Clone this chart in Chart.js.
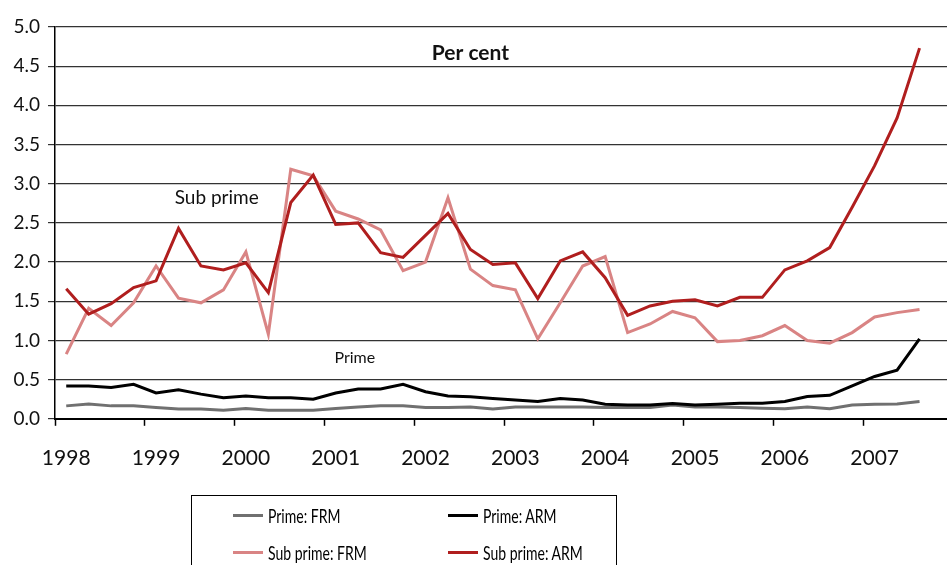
<!DOCTYPE html>
<html>
<head>
<meta charset="utf-8">
<script src="https://cdn.jsdelivr.net/npm/chart.js@4/dist/chart.umd.min.js"></script>
<style>
  body { margin: 0; width: 947px; height: 565px; overflow: hidden; background: #fff; font-family: Lato, sans-serif; }
  #wrap { position: absolute; left: 0; top: 0; width: 962px; height: 499px; }
  #legend { position: absolute; left: 191px; top: 495px; width: 426px; height: 90px; border: 1px solid #000; box-sizing: border-box; }
  .item { position: absolute; height: 20px; display: flex; align-items: center; }
  .swatch { width: 30px; height: 3px; margin-right: 5px; }
  .label { font-size: 20px; color: #000; transform: scaleX(0.7); transform-origin: left center; white-space: nowrap; }
</style>
</head>
<body>
<div id="wrap"><canvas id="chart" width="962" height="499"></canvas></div>
<div id="legend"></div>
<script>
// Quarterly data, 1998 Q1 - 2007 Q3 (per cent)
const years = ['1998', '1999', '2000', '2001', '2002', '2003', '2004', '2005', '2006', '2007'];
const seriesNames = ['Prime: FRM', 'Prime: ARM', 'Sub prime: FRM', 'Sub prime: ARM'];

const primeFRM = [0.165, 0.19, 0.165, 0.165, 0.145, 0.125, 0.125, 0.11, 0.13, 0.11,
  0.11, 0.11, 0.13, 0.15, 0.165, 0.165, 0.145, 0.145, 0.15, 0.125,
  0.15, 0.15, 0.15, 0.15, 0.145, 0.145, 0.145, 0.175, 0.15, 0.15,
  0.145, 0.135, 0.128, 0.15, 0.128, 0.175, 0.187, 0.19, 0.22];
const primeARM = [0.42, 0.42, 0.40, 0.44, 0.33, 0.37, 0.315, 0.27, 0.29, 0.27,
  0.27, 0.25, 0.33, 0.38, 0.38, 0.44, 0.345, 0.29, 0.28, 0.26,
  0.24, 0.22, 0.26, 0.24, 0.187, 0.175, 0.175, 0.195, 0.175, 0.187,
  0.20, 0.20, 0.22, 0.285, 0.30, 0.42, 0.54, 0.62, 1.02];
const subFRM = [0.825, 1.41, 1.19, 1.48, 1.95, 1.54, 1.48, 1.645, 2.13, 1.08,
  3.185, 3.10, 2.65, 2.55, 2.41, 1.89, 2.00, 2.82, 1.91, 1.70,
  1.645, 1.02, 1.48, 1.95, 2.07, 1.10, 1.21, 1.37, 1.29, 0.985,
  1.00, 1.06, 1.19, 1.00, 0.965, 1.10, 1.30, 1.355, 1.395];
const subARM = [1.66, 1.335, 1.47, 1.675, 1.76, 2.43, 1.95, 1.90, 1.99, 1.61,
  2.76, 3.11, 2.48, 2.50, 2.12, 2.06, 2.34, 2.62, 2.16, 1.97,
  1.99, 1.535, 2.015, 2.13, 1.80, 1.32, 1.44, 1.50, 1.52, 1.44,
  1.55, 1.55, 1.90, 2.015, 2.185, 2.70, 3.23, 3.84, 4.73];

const colors = ['#707070', '#000000', '#d98484', '#b01e1e'];

// one category per quarter
const quarters = [];
years.forEach(y => { for (let q = 1; q <= 4; q++) quarters.push(y + ' Q' + q); });

const datasets = [primeFRM, primeARM, subFRM, subARM].map((d, i) => ({
  label: seriesNames[i],
  data: d,
  borderColor: colors[i],
  borderWidth: 3,
  pointRadius: 0,
  tension: 0,
  fill: false,
  order: 3 - i
}));

// text written inside the plot
const notes = [
  { text: 'Per cent', x: 18, y: 4.67, font: 'bold 21px Lato' },
  { text: 'Sub prime', x: 6.7, y: 2.82, font: '19px Lato' },
  { text: 'Prime', x: 12.85, y: 0.78, font: '16px Lato' }
];

const notesPlugin = {
  id: 'notes',
  afterDraw(chart) {
    const ctx = chart.ctx;
    ctx.save();
    ctx.fillStyle = '#111';
    ctx.textAlign = 'center';
    ctx.textBaseline = 'middle';
    notes.forEach(n => {
      ctx.font = n.font;
      ctx.fillText(n.text, chart.scales.x.getPixelForValue(n.x), chart.scales.y.getPixelForValue(n.y));
    });
    ctx.restore();
  }
};

new Chart(document.getElementById('chart'), {
  type: 'line',
  data: { labels: quarters, datasets: datasets },
  options: {
    responsive: false,
    animation: false,
    layout: { padding: { top: 27, right: 0, bottom: 8, left: 0 } },
    plugins: { legend: { display: false }, tooltip: { enabled: false } },
    scales: {
      x: {
        offset: true,
        grid: {
          offset: true,
          drawOnChartArea: false,
          tickLength: 7,
          tickColor: c => (c.index % 4 === 0 ? '#000' : 'rgba(0,0,0,0)'),
          tickWidth: 1.5
        },
        border: { color: '#000', width: 2 },
        ticks: {
          autoSkip: false,
          maxRotation: 0,
          padding: 20,
          color: '#111',
          font: { family: 'Lato', size: 21 },
          callback: (v, i) => (i % 4 === 0 ? years[i / 4] : '')
        }
      },
      y: {
        min: 0,
        max: 5,
        afterFit: s => { s.width = 55; },
        grid: { color: '#333', lineWidth: 1.2, tickLength: 7 },
        border: { color: '#000', width: 1.5 },
        ticks: {
          stepSize: 0.5,
          padding: 8,
          color: '#111',
          font: { family: 'Lato', size: 19 },
          callback: v => v.toFixed(1)
        }
      }
    }
  },
  plugins: [notesPlugin]
});

// legend in two columns, built from the datasets
const legend = document.getElementById('legend');
datasets.forEach((ds, i) => {
  const item = document.createElement('div');
  item.className = 'item';
  item.style.left = (i % 2 === 0 ? 41 : 256) + 'px';
  item.style.top = (i < 2 ? 9 : 46) + 'px';
  item.innerHTML = `<div class="swatch" style="background:${ds.borderColor}"></div><span class="label">${ds.label}</span>`;
  legend.appendChild(item);
});
</script>
</body>
</html>
